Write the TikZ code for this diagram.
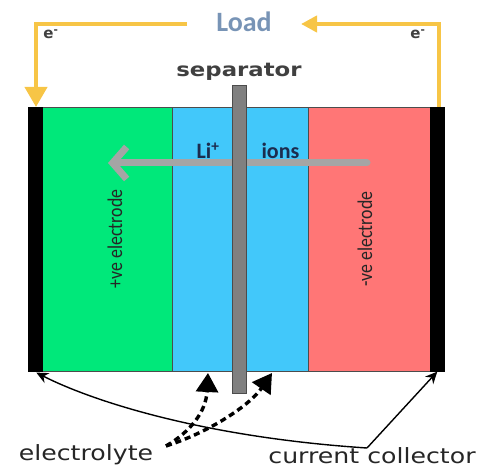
\documentclass[tikz,border=0pt]{standalone}
\usepackage{fontspec}
\setmainfont{Carlito}
\newfontfamily\labelfont{DejaVu Sans}[FakeStretch=1.2]
\newfontfamily\efont{DejaVu Sans}
\newfontfamily\narrowfont{Carlito}[FakeStretch=0.85]
\usepackage{xcolor}
\usetikzlibrary{arrows.meta,positioning,calc}
\definecolor{wireyellow}{RGB}{247, 197, 70}
\definecolor{loadblue}{RGB}{120, 148, 182}
\definecolor{posgreen}{RGB}{0, 232, 122}
\definecolor{elyteblue}{RGB}{66, 200, 250}
\definecolor{negred}{RGB}{255, 118, 118}
\definecolor{sepgray}{RGB}{128, 128, 128}
\definecolor{iongray}{RGB}{165, 165, 165}
\definecolor{ionnavy}{RGB}{28, 44, 78}

\begin{document}
\begin{tikzpicture}[
  x=1pt, y=-1pt,
  region/.style={rectangle, draw=black!70, line width=0.6pt, inner sep=0pt, anchor=north west},
  collector/.style={region, fill=black, draw=black},
  wire/.style={line width=4pt, color=wireyellow},
  pointer/.style={-{Stealth[length=12pt,width=11pt]}, line width=1.4pt, color=black},
  dotpointer/.style={-{Triangle[length=19pt,width=22pt]}, line width=3.4pt, dash pattern=on 6pt off 4pt, color=black},
  eltext/.style={font=\narrowfont\fontsize{21}{22}\selectfont, rotate=90, text=black!85},
  lbl/.style={font=\labelfont\fontsize{21}{23}\selectfont, text=black!85},
  elabel/.style={font=\efont\bfseries\fontsize{15}{16}\selectfont, text=black!75}
]
\useasboundingbox (0,0) rectangle (480,468);

% cell layers
\node[region, fill=posgreen, minimum width=130pt, minimum height=264pt] (pos) at (42,107) {};
\node[region, fill=elyteblue, minimum width=136pt, minimum height=264pt] (elyte) at (172,107) {};
\node[region, fill=negred, minimum width=122pt, minimum height=264pt] (neg) at (308,107) {};
\node[collector, minimum width=14pt, minimum height=264pt] (lcc) at (28,107) {};
\node[collector, minimum width=14pt, minimum height=264pt] (rcc) at (430,107) {};

\node[eltext] (postext) at (115,239) {+ve electrode};
\node[eltext] (negtext) at (365,239) {-ve electrode};

% ion flow
\coordinate (ionstart) at (367,163);
\coordinate (ionend) at (108,163);
\draw[-{Straight Barb[length=14pt,width=32pt]}, line width=7pt, line cap=round, color=iongray] (ionstart) -- (ionend);
\node[font=\fontsize{22}{23}\selectfont\bfseries, text=ionnavy] (ions) at (248,151) {Li\textsuperscript{+}\hspace{42pt}ions};

% separator
\node[rectangle, fill=sepgray, draw=black!70, line width=1pt, minimum width=14pt, minimum height=308pt, inner sep=0pt, anchor=north] (sep) at (239.5,85) {};
\node[lbl, font=\labelfont\bfseries\fontsize{19}{20}\selectfont, text=black!75] (septext) at (239,72) {separator};

% external circuit
\node[font=\fontsize{28}{30}\selectfont\bfseries, text=loadblue] (load) at (244,22) {Load};
\coordinate (lcorner) at (36,24);
\coordinate (rcorner) at (439,24);
\coordinate (loadL) at (187,24);
\coordinate (loadR) at (301,24);
\draw[wire, -{Triangle[length=20pt,width=22pt]}] (loadL) -- (lcorner) -- (lcc.north -| lcorner);
\draw[wire, -{Triangle[length=16pt,width=16pt]}] (rcc.north -| rcorner) -- (rcorner) -- (loadR);
\node[elabel] (eleft) at (51,34) {e\textsuperscript{-}};
\node[elabel] (eright) at (418,34) {e\textsuperscript{-}};

% labels below
\node[lbl] (elabel) at (86,455) {electrolyte};
\node[lbl] (clabel) at (372,456) {current collector};
\coordinate (cjoin) at (367,448);
\coordinate (ejoin) at (166,446);

\draw[pointer] (cjoin) -- (rcc.south);
\draw[pointer] (cjoin) .. controls (200,437) and (90,400) .. ($(lcc.south)+(1,1)$);
\draw[dotpointer] (ejoin) .. controls (190,432) and (206,412) .. (208,373);
\draw[dotpointer] (ejoin) .. controls (210,432) and (250,405) .. (272,373);
\end{tikzpicture}
\end{document}
